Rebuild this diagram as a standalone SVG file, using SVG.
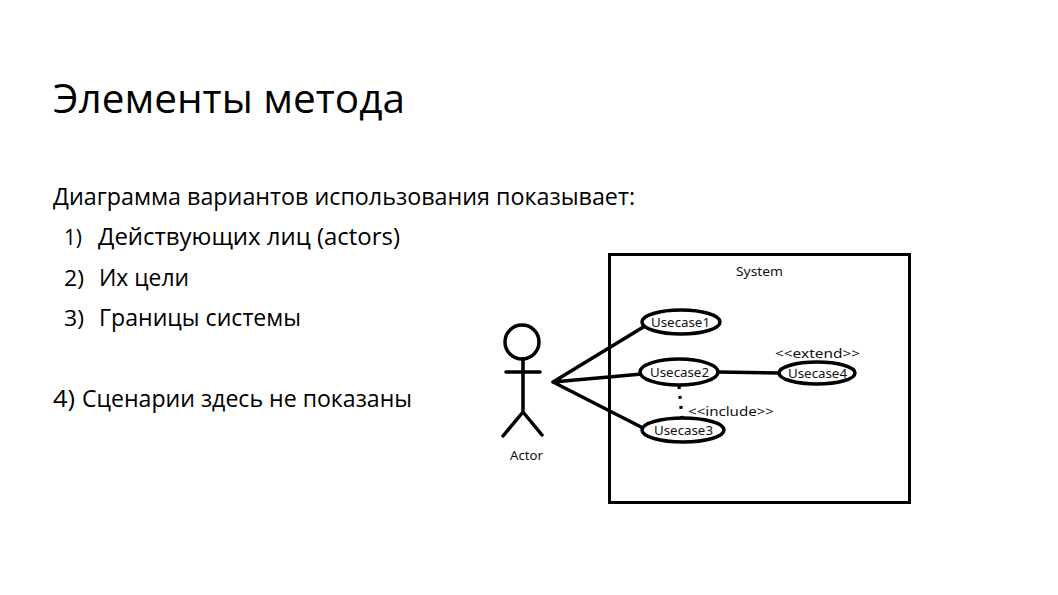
<svg xmlns="http://www.w3.org/2000/svg" width="1058" height="595" viewBox="0 0 1058 595">
<style>
.t{font-family:"Open Sans","Noto Sans","DejaVu Sans",sans-serif;fill:#000}
.b{font-size:24px}
.n{font-size:22px}
.s{font-family:"Noto Sans","Open Sans","DejaVu Sans",sans-serif;font-size:13px;fill:#111}
.l{stroke:#000;stroke-width:3.5;fill:none;stroke-linecap:round}
.e{stroke:#000;stroke-width:3.5;fill:#fff}
</style>
<rect width="1058" height="595" fill="#fff"/>
<g id="slide-text">
<text class="t" x="53" y="113" font-size="40" textLength="352" lengthAdjust="spacingAndGlyphs">Элементы метода</text>
<text class="t b" x="53" y="205" textLength="582" lengthAdjust="spacingAndGlyphs">Диаграмма вариантов использования показывает:</text>
<text class="t n" x="64" y="245" textLength="18" lengthAdjust="spacingAndGlyphs">1)</text>
<text class="t b" x="98" y="245" textLength="302" lengthAdjust="spacingAndGlyphs">Действующих лиц (actors)</text>
<text class="t n" x="64" y="286" textLength="20" lengthAdjust="spacingAndGlyphs">2)</text>
<text class="t b" x="99" y="286" textLength="90" lengthAdjust="spacingAndGlyphs">Их цели</text>
<text class="t n" x="64" y="326" textLength="20" lengthAdjust="spacingAndGlyphs">3)</text>
<text class="t b" x="99" y="326" textLength="202" lengthAdjust="spacingAndGlyphs">Границы системы</text>
<text class="t b" x="53" y="407" textLength="22" lengthAdjust="spacingAndGlyphs">4)</text>
<text class="t b" x="82" y="407" textLength="330" lengthAdjust="spacingAndGlyphs">Сценарии здесь не показаны</text>
</g>
<g id="system">
<rect x="609.5" y="254.5" width="300" height="248" fill="#fff" stroke="#000" stroke-width="3"/>
<text class="s" x="736" y="276" textLength="47" lengthAdjust="spacingAndGlyphs">System</text>
</g>
<g id="connectors">
<path class="l" d="M553 382L645 326M553 382L642 374M553 382L645 429M719 372L780 373"/>
<path d="M679 386L682 418" stroke="#000" stroke-width="3.2" stroke-dasharray="3 7" fill="none"/>
</g>
<g id="actor">
<circle class="l" cx="522" cy="342" r="17"/>
<path class="l" d="M523 359V412M506 372H540M523 412L503 436M523 412L542 435"/>
<text class="s" x="510" y="460" textLength="33" lengthAdjust="spacingAndGlyphs">Actor</text>
</g>
<g id="usecase1"><ellipse class="e" cx="681" cy="322" rx="39" ry="12"/><text class="s" x="651" y="327" textLength="59" lengthAdjust="spacingAndGlyphs">Usecase1</text></g>
<g id="usecase2"><ellipse class="e" cx="679" cy="372" rx="39" ry="13"/><text class="s" x="650" y="377" textLength="59" lengthAdjust="spacingAndGlyphs">Usecase2</text></g>
<g id="usecase3"><ellipse class="e" cx="683" cy="430" rx="41" ry="12"/><text class="s" x="654" y="435" textLength="59" lengthAdjust="spacingAndGlyphs">Usecase3</text></g>
<g id="usecase4"><ellipse class="e" cx="817" cy="373" rx="38" ry="11"/><text class="s" x="788" y="378" textLength="59" lengthAdjust="spacingAndGlyphs">Usecase4</text></g>
<g id="labels">
<text class="s" x="775" y="358" textLength="85" lengthAdjust="spacingAndGlyphs">&lt;&lt;extend&gt;&gt;</text>
<text class="s" x="688" y="416" textLength="86" lengthAdjust="spacingAndGlyphs">&lt;&lt;include&gt;&gt;</text>
</g>
</svg>
